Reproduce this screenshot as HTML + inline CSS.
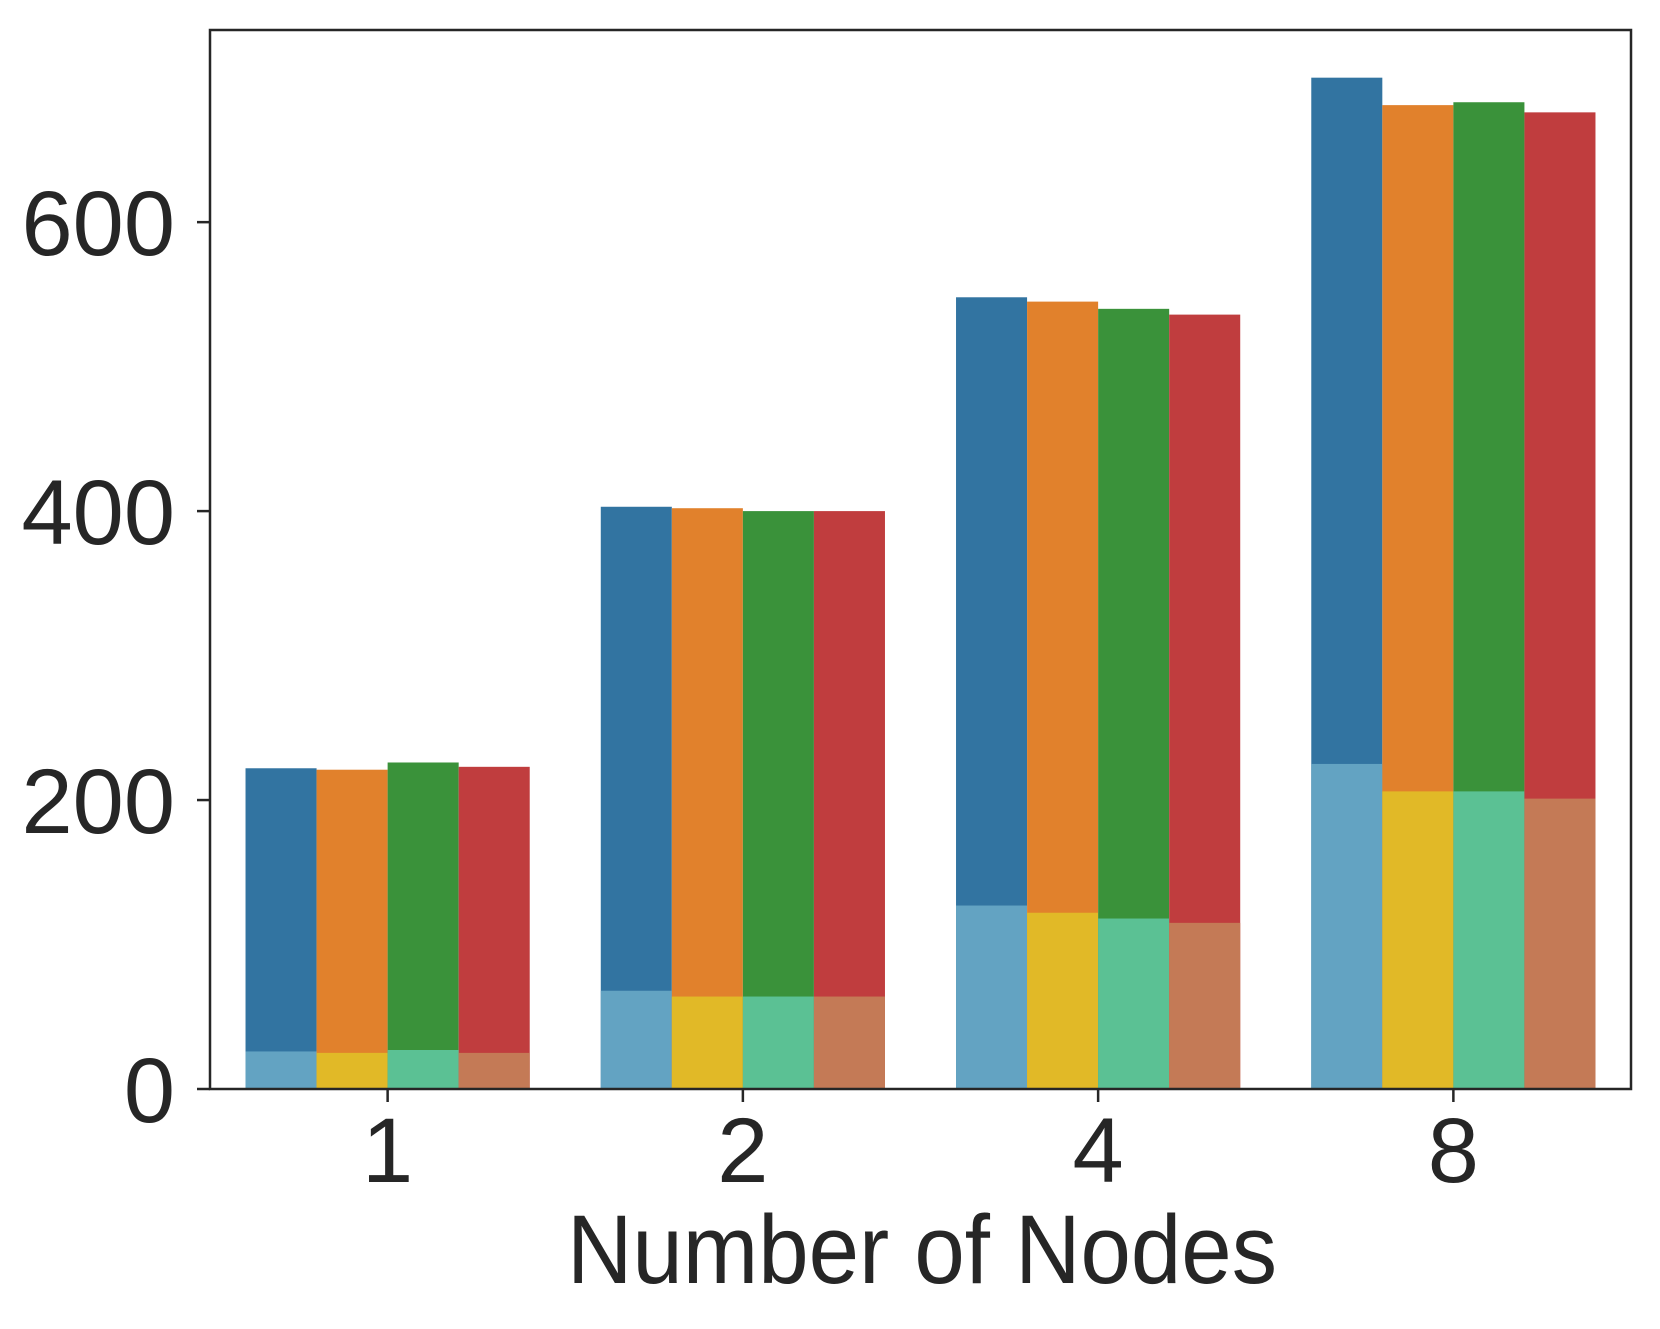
<!DOCTYPE html>
<html><head><meta charset="utf-8"><style>body{margin:0;background:#fff}svg{display:block}</style></head>
<body>
<svg id="chart" width="1660" height="1329" xmlns="http://www.w3.org/2000/svg" font-family="Liberation Sans, Arial, sans-serif" fill="#262626"></svg>
<script>
const categories = ["1","2","4","8"];
const totalA = [222,403,548,700];
const totalB = [221,402,545,681];
const totalC = [226,400,540,683];
const totalD = [223,400,536,676];
const baseA = [26,68,127,225];
const baseB = [25,64,122,206];
const baseC = [27,64,118,206];
const baseD = [25,64,115,201];
const yTicks = [0,200,400,600];
const darkColors = ["#3274a1","#e1812c","#3a923a","#c03d3e"];
const lightColors = ["#63a3c2","#e1b927","#5bc194","#c47a56"];
const L=210,R=1631,T=30,B=1089,YMAX=733;
const y=v=>B-(v/YMAX)*(B-T);
const step=(R-L)/4;
const xc=i=>L+step*(i+0.5);
const bw=step*0.8/4;
const svg=document.getElementById('chart');
const NS='http://www.w3.org/2000/svg';
function mk(t,a){const e=document.createElementNS(NS,t);for(const k in a)e.setAttribute(k,a[k]);svg.appendChild(e);return e;}
const totals=[totalA,totalB,totalC,totalD], bases=[baseA,baseB,baseC,baseD];
categories.forEach((c,i)=>{
  for(let s=0;s<4;s++){
    const x=xc(i)+(s-2)*bw;
    const r1=mk('rect',{x:x,y:y(totals[s][i]),width:bw,height:B-y(totals[s][i]),fill:darkColors[s]});
    
    
    const r2=mk('rect',{x:x,y:y(bases[s][i]),width:bw,height:B-y(bases[s][i]),fill:lightColors[s]});
    
    
  }
  const tk=mk('line',{x1:xc(i),x2:xc(i),y1:B,y2:B+13,stroke:'#262626','stroke-width':2.5});
  
  
  const tl=mk('text',{x:xc(i),y:1182,'font-size':92,'text-anchor':'middle'});
  tl.textContent=c;
  
  
});
yTicks.forEach(v=>{
  const tk=mk('line',{x1:L-13,x2:L,y1:y(v),y2:y(v),stroke:'#262626','stroke-width':2.5});
  
  
  const tl=mk('text',{x:175,y:y(v)+33,'font-size':92,'text-anchor':'end'});
  tl.textContent=v;
  
  
});
const fr=mk('rect',{x:L,y:T,width:R-L,height:B-T,fill:'none',stroke:'#262626','stroke-width':2.5});


const xt=mk('text',{x:922,y:1283,'font-size':97,'text-anchor':'middle',textLength:710,lengthAdjust:'spacingAndGlyphs'});
xt.textContent='Number of Nodes';


</script>
</body></html>
